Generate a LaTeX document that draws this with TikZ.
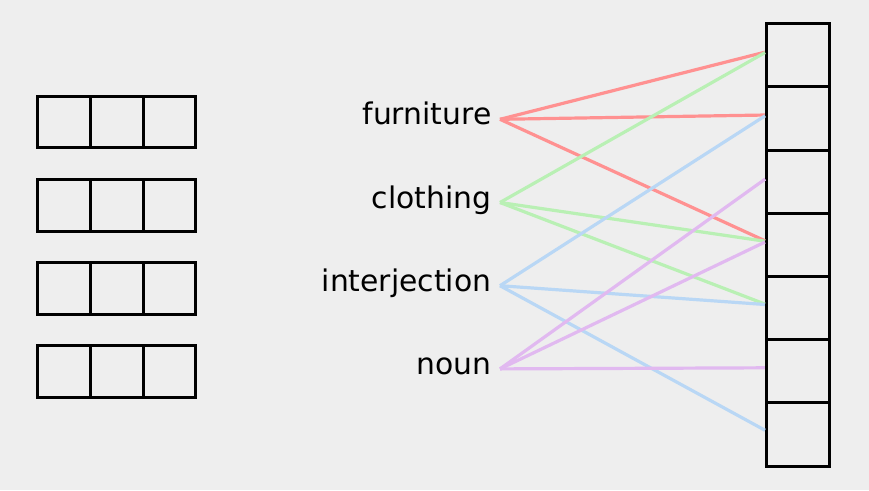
\documentclass[tikz,border=0pt]{standalone}
\usepackage{fontspec}
\setmainfont{DejaVu Sans}
\usepackage{xcolor}
\usepackage{tikz}
\usetikzlibrary{positioning}
\definecolor{bggray}{HTML}{EEEEEE}
\definecolor{linkred}{HTML}{FF9191}
\definecolor{linkgreen}{HTML}{B9F0B4}
\definecolor{linkblue}{HTML}{B9D7F5}
\definecolor{linkpurple}{HTML}{E1B9F0}

\begin{document}
\begin{tikzpicture}[x=1pt, y=-1pt, node distance=0pt,
  cell/.style={draw, line width=3pt, outer sep=0pt, inner sep=0pt, minimum width=52.8pt, minimum height=51.5pt},
  slot/.style={draw, line width=3pt, outer sep=0pt, inner sep=0pt, minimum width=62.7pt, minimum height=63.2pt},
  word/.style={anchor=east, inner sep=0pt, inner xsep=8.5pt, font=\fontsize{29.8}{30}\selectfont, text height=15pt, text depth=4pt},
  link/.style={line width=3.2pt, shorten >=1.5pt}]
\fill[bggray] (0,0) rectangle (869,490);
\useasboundingbox (0,0) rectangle (869,490);

% left vectors
\foreach \i/\y in {1/122, 2/205.3, 3/288.5, 4/371.7} {
  \node[cell] (v\i a) at (63.9,\y) {};
  \node[cell, right=of v\i a] (v\i b) {};
  \node[cell, right=of v\i b] (v\i c) {};
}

% words
\node[word] (furniture) at (500,119.3) {furniture};
\node[word] (clothing) at (500,202.5) {clothing};
\node[word] (interjection) at (500,285.7) {interjection};
\node[word] (noun) at (500,368.9) {noun};

% right column
\node[slot] (r1) at (797.7,55.3) {};
\node[slot, below=of r1] (r2) {};
\node[slot, below=of r2] (r3) {};
\node[slot, below=of r3] (r4) {};
\node[slot, below=of r4] (r5) {};
\node[slot, below=of r5] (r6) {};
\node[slot, below=of r6] (r7) {};

\foreach \j in {1,2,4} \draw[link, linkred] (furniture.east) -- ([yshift=3.5pt]r\j.west);
\foreach \j in {1,4,5} \draw[link, linkgreen] (clothing.east) -- ([yshift=3.5pt]r\j.west);
\foreach \j in {2,5,7} \draw[link, linkblue] (interjection.east) -- ([yshift=3.5pt]r\j.west);
\foreach \j in {3,4,6} \draw[link, linkpurple] (noun.east) -- ([yshift=3.5pt]r\j.west);

\end{tikzpicture}
\end{document}
